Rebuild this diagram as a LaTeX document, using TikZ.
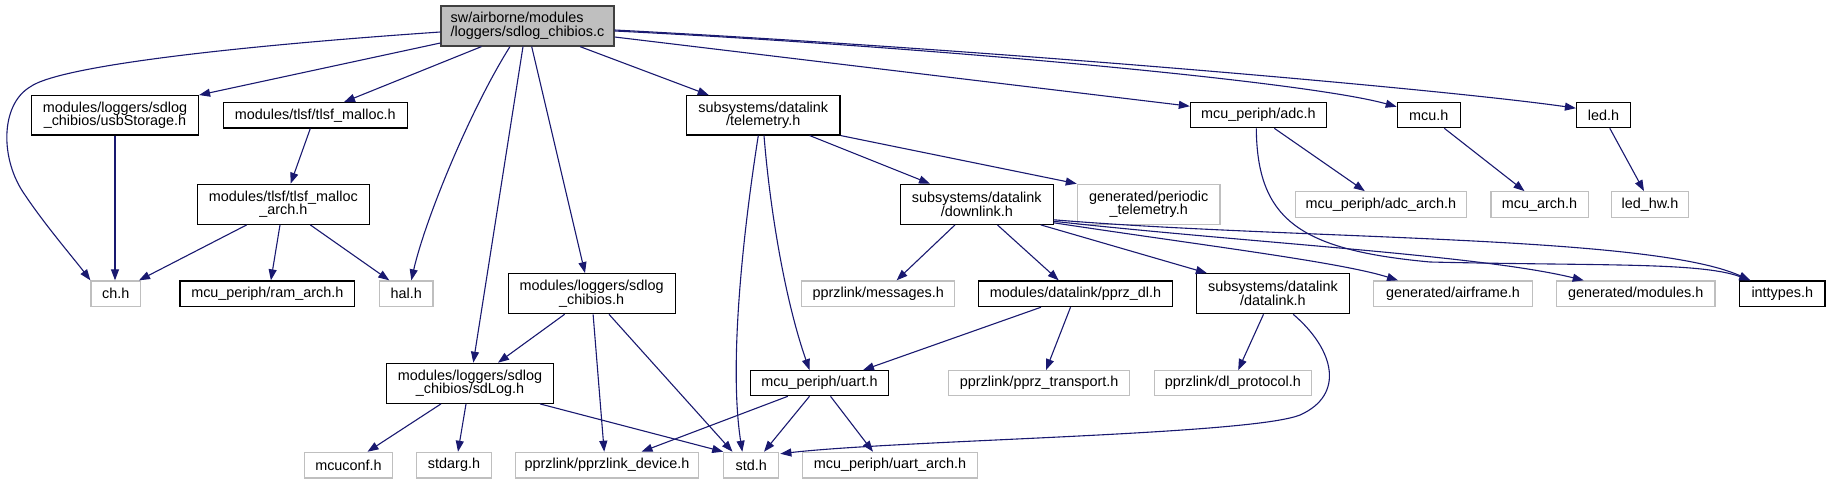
\documentclass[tikz,border=0pt]{standalone}
\usepackage{fontspec}
\setmainfont{Liberation Sans}
\usetikzlibrary{arrows.meta,calc}
\definecolor{edgeblue}{HTML}{191970}
\definecolor{lightgrey}{HTML}{BFBFBF}
\definecolor{rootgrey}{HTML}{BFBFBF}
\definecolor{rootborder}{HTML}{404040}
\begin{document}
\begin{tikzpicture}[x=1pt,y=-1pt,
  box/.style={draw=black, line width=1.2pt, fill=white, inner sep=0pt, align=center,
    font=\fontsize{14.4}{13.8}\selectfont},
  gbox/.style={box, draw=lightgrey},
  sz/.style 2 args={minimum width=#1pt, minimum height=#2pt},
  edge/.style={draw=edgeblue, line width=1.1pt, -{Triangle[length=11pt,width=8pt]}, fill=none}
]
\useasboundingbox (0,0) rectangle (1830,484);
% nodes
\node[box, fill=rootgrey, draw=rootborder, sz={173}{40}, align=left] (root) at (527.5,26) {sw/airborne/modules\\/loggers/sdlog\_chibios.c};
\node[box, sz={167}{39.3}] (usb) at (115,115.3) {modules/loggers/sdlog\\\_chibios/usbStorage.h};
\node[box, sz={184}{25.3}] (tlsf) at (315.3,115.3) {modules/tlsf/tlsf\_malloc.h};
\node[box, sz={172}{40}] (tlsfarch) at (283.3,204.3) {modules/tlsf/tlsf\_malloc\\\_arch.h};
\node[gbox, sz={49.4}{25.7}] (ch) at (115.7,293.8) {ch.h};
\node[box, sz={174.7}{25.7}] (ram) at (267.3,293.8) {mcu\_periph/ram\_arch.h};
\node[gbox, sz={53.4}{25.7}] (hal) at (406.3,293.8) {hal.h};
\node[box, sz={167}{40}] (sdchib) at (591.6,293.7) {modules/loggers/sdlog\\\_chibios.h};
\node[box, sz={167}{40}] (sdlog) at (470,383.3) {modules/loggers/sdlog\\\_chibios/sdLog.h};
\node[gbox, sz={88}{25.7}] (mcuconf) at (348.5,465.2) {mcuconf.h};
\node[gbox, sz={75}{25.7}] (stdarg) at (454,465.2) {stdarg.h};
\node[gbox, sz={183.7}{25.7}] (pprzdev) at (607,465.2) {pprzlink/pprzlink\_device.h};
\node[gbox, sz={55}{25.7}] (std) at (751.3,465.2) {std.h};
\node[gbox, sz={175}{25.7}] (uartarch) at (890,465.2) {mcu\_periph/uart\_arch.h};
\node[box, sz={138.3}{25}] (uart) at (819.5,383.2) {mcu\_periph/uart.h};
\node[gbox, sz={181}{25}] (pprztr) at (1039.2,383.2) {pprzlink/pprz\_transport.h};
\node[gbox, sz={153}{25.7}] (messages) at (878.2,293.8) {pprzlink/messages.h};
\node[box, sz={193.4}{25.7}] (pprzdl) at (1075.5,293.8) {modules/datalink/pprz\_dl.h};
\node[gbox, sz={157}{25}] (dlproto) at (1232.8,383.2) {pprzlink/dl\_protocol.h};
\node[box, sz={153.2}{40}] (datalink) at (1272.9,293.7) {subsystems/datalink\\/datalink.h};
\node[gbox, sz={158.7}{25.7}] (airframe) at (1453,293.8) {generated/airframe.h};
\node[gbox, sz={158.6}{25.7}] (modules) at (1635.7,293.8) {generated/modules.h};
\node[box, sz={85.4}{25.7}] (inttypes) at (1782.3,293.8) {inttypes.h};
\node[box, sz={153.4}{39.3}] (telem) at (763.3,115.3) {subsystems/datalink\\/telemetry.h};
\node[box, sz={152.6}{40}] (down) at (976.8,204.3) {subsystems/datalink\\/downlink.h};
\node[gbox, sz={142.7}{40}] (periodic) at (1148.7,204.3) {generated/periodic\\\_telemetry.h};
\node[box, sz={135.8}{25}] (adc) at (1258.3,115.2) {mcu\_periph/adc.h};
\node[box, sz={63}{25}] (mcu) at (1428.8,115.2) {mcu.h};
\node[box, sz={53.8}{25}] (led) at (1603.4,115.2) {led.h};
\node[gbox, sz={171.2}{25.6}] (adcarch) at (1380.8,204.5) {mcu\_periph/adc\_arch.h};
\node[gbox, sz={97.2}{25.6}] (mcuarch) at (1539.5,204.5) {mcu\_arch.h};
\node[gbox, sz={76.3}{25.6}] (ledhw) at (1650,204.5) {led\_hw.h};
% edges
\draw[edge] ($(root.west)+(0,6)$) .. controls (250,45) and (60,65) .. (30,87) .. controls (0,105) and (0,160) .. (25,195) .. controls (45,225) and (75,260) .. (ch.north west);
\draw[edge] ($(root.west)+(0,17)$) -- (usb.north east);
\draw[edge] ($(root.south)+(-46,0)$) -- ($(tlsf.north)+(28.7,0)$);
\draw[edge] ($(root.south)+(-17.5,0)$) .. controls (470,110) and (425,220) .. ($(hal.north)+(5,0)$);
\draw[edge] ($(root.south)+(-4.5,0)$) -- ($(sdlog.north)+(3.3,0)$);
\draw[edge] ($(root.south)+(4.2,0)$) -- ($(sdchib.north)+(-6.6,0)$);
\draw[edge] ($(root.south)+(52.5,0)$) -- ($(telem.north)+(-54.6,0)$);
\draw[edge] ($(root.east)+(0,11)$) -- ($(adc.west)+(0,-9)$);
\draw[edge] ($(root.east)+(0,5)$) .. controls (900,45) and (1300,80) .. ($(mcu.west)+(0,-8.5)$);
\draw[edge] ($(root.east)+(0,4)$) .. controls (1000,50) and (1450,90) .. ($(led.west)+(0,-7)$);
\draw[edge] (usb.south) -- (usb.south |- ch.north);
\draw[edge] ($(tlsf.south)+(-5,0)$) -- ($(tlsfarch.north)+(7.3,0)$);
\draw[edge] ($(tlsfarch.south)+(-36.6,0)$) -- ($(ch.north east)+(-2,0)$);
\draw[edge] ($(tlsfarch.south)+(-3.3,0)$) -- ($(ram.north)+(3.6,0)$);
\draw[edge] ($(tlsfarch.south)+(27,0)$) -- ($(hal.north)+(-17,0)$);
\draw[edge] ($(telem.south)+(46.3,0)$) -- ($(down.north)+(-46.8,0)$);
\draw[edge] (telem.south east) -- (periodic.north west);
\draw[edge] ($(telem.south)+(-5,0)$) .. controls (745,220) and (728,360) .. ($(std.north)+(-9,0)$);
\draw[edge] ($(telem.south)+(0.7,0)$) .. controls (770,210) and (785,300) .. ($(uart.north)+(-10,0)$);
\draw[edge] ($(down.south)+(-21.8,0)$) -- ($(messages.north)+(18.4,0)$);
\draw[edge] ($(down.south)+(20.6,0)$) -- ($(pprzdl.north)+(-16.8,0)$);
\draw[edge] ($(down.south)+(64,0)$) -- ($(datalink.north)+(-66,0)$);
\draw[edge] ($(down.east)+(0,18.5)$) .. controls (1200,245) and (1340,262) .. ($(airframe.north)+(-55,0)$);
\draw[edge] ($(down.east)+(0,17)$) .. controls (1250,243) and (1480,255) .. ($(modules.north)+(-52,0)$);
\draw[edge] ($(down.east)+(0,15.5)$) .. controls (1300,240) and (1650,235) .. ($(inttypes.north)+(-32,0)$);
\draw[edge] ($(adc.south)+(16,0)$) -- ($(adcarch.north)+(-16,0)$);
\draw[edge] ($(adc.south)+(-2,0)$) .. controls (1257,220) and (1300,250) .. (1430,262) .. controls (1600,266) and (1700,262) .. ($(inttypes.north)+(-32,0)$);
\draw[edge] ($(mcu.south)+(15.5,0)$) -- ($(mcuarch.north)+(-15,0)$);
\draw[edge] ($(led.south)+(6.4,0)$) -- ($(ledhw.north)+(-6,0)$);
\draw[edge] ($(sdchib.south)+(-27,0)$) -- ($(sdlog.north)+(28,0)$);
\draw[edge] ($(sdchib.south)+(1.5,0)$) -- ($(pprzdev.north)+(-2.8,0)$);
\draw[edge] ($(sdchib.south)+(17.4,0)$) -- ($(std.north)+(-18.8,0)$);
\draw[edge] ($(sdlog.south)+(-29,0)$) -- ($(mcuconf.north)+(19,0)$);
\draw[edge] ($(sdlog.south)+(-4,0)$) -- ($(stdarg.north)+(4,0)$);
\draw[edge] ($(sdlog.south)+(70,0)$) -- (std.north west);
\draw[edge] ($(pprzdl.south)+(-34.6,0)$) -- ($(uart.north)+(43.5,0)$);
\draw[edge] ($(pprzdl.south)+(-5,0)$) -- ($(pprztr.north)+(6.8,0)$);
\draw[edge] ($(datalink.south)+(-9.4,0)$) -- ($(dlproto.north)+(5.4,0)$);
\draw[edge] ($(datalink.south)+(20.3,0)$) .. controls (1335,350) and (1345,395) .. (1300,415) .. controls (1250,435) and (900,440) .. ($(std.north east)+(1,2)$);
\draw[edge] ($(uart.south)+(-31.7,0)$) -- ($(pprzdev.north)+(34.5,0)$);
\draw[edge] ($(uart.south)+(-10,0)$) -- ($(std.north)+(12.7,0)$);
\draw[edge] ($(uart.south)+(11,0)$) -- ($(uartarch.north)+(-17,0)$);
\end{tikzpicture}
\end{document}
